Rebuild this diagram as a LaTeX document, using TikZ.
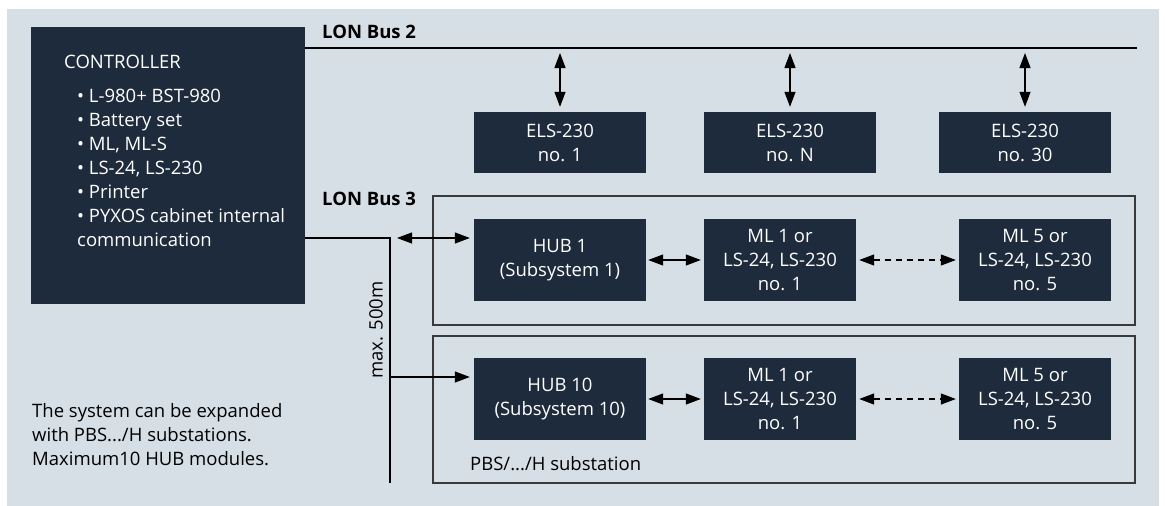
\documentclass[tikz,border=0pt]{standalone}
\usepackage{fontspec}
\setmainfont{Open Sans}
\usetikzlibrary{arrows.meta}
\definecolor{bgc}{HTML}{D6DFE5}
\definecolor{boxc}{HTML}{1E2B3C}
\definecolor{framec}{HTML}{3A3A3A}
\tikzset{
  dark/.style={fill=boxc, text=white, inner sep=0pt, align=center,
    font=\fontsize{18.5}{24}\selectfont},
  elsbox/.style={dark, minimum width=172pt, minimum height=61pt},
  hubbox/.style={dark, minimum width=172pt, minimum height=82pt},
  mlbox/.style={dark, minimum width=152pt, minimum height=82pt},
  frm/.style={draw=framec, line width=1.3pt},
  wire/.style={draw=black, line width=1.2pt},
  arr/.style={wire, {Triangle[length=15pt,width=11pt]}-{Triangle[length=15pt,width=11pt]}},
  arrone/.style={wire, -{Triangle[length=15pt,width=11pt]}},
  darr/.style={arr, dash pattern=on 6pt off 5pt},
  lbl/.style={inner sep=0pt, font=\fontsize{18.5}{24}\selectfont},
  buslbl/.style={inner sep=0pt, font=\bfseries\fontsize{18.5}{24}\selectfont, anchor=west},
}
\begin{document}
\begin{tikzpicture}[x=1pt,y=-1pt]
\useasboundingbox (0,0) rectangle (1165,506);
\fill[white] (0,0) rectangle (1165,506);
\fill[bgc] (7,9) rectangle (1159,506);

% controller
\node[fill=boxc, minimum width=274pt, minimum height=277pt, inner sep=0pt] (ctrl) at (168,165.5) {};
\node[lbl, text=white, anchor=west] (ctrltitle) at (64,62) {CONTROLLER};
\node[lbl, text=white, anchor=north west, align=left] (ctrllist) at (77,89)
  {• L-980+ BST-980\\ • Battery set\\ • ML, ML-S\\ • LS-24, LS-230\\ • Printer\\ • PYXOS cabinet internal\\ communication};

% LON Bus 2
\node[buslbl] (bus2lbl) at (322,32) {LON Bus 2};
\coordinate (b2s) at (305,48);
\coordinate (b2e) at (1137,48);
\draw[wire] (b2s) -- (b2e);

\node[elsbox] (els1) at (560,142.5) {ELS-230\\no. 1};
\node[elsbox] (elsN) at (790,142.5) {ELS-230\\no. N};
\node[elsbox] (els30) at (1025,142.5) {ELS-230\\no. 30};
\foreach \n in {els1,elsN,els30}{
  \draw[arr, shorten <=5pt, shorten >=5pt] (\n.north |- b2s) -- (\n.north);
}

% LON Bus 3
\node[buslbl] (bus3lbl) at (322,199) {LON Bus 3};
\draw[frm] (433,196) rectangle (1135,325);
\draw[frm] (433,336) rectangle (1135,483);
\coordinate (b3c) at (390,238);
\coordinate (b3end) at (390,483);
\draw[wire] (ctrl.east |- b3c) -- (b3c) -- (b3end);

\node[hubbox] (hub1) at (560,260) {HUB 1\\(Subsystem 1)};
\node[mlbox] (mla1) at (780,260) {ML 1 or\\LS-24, LS-230\\no. 1};
\node[mlbox] (mla5) at (1035,260) {ML 5 or\\LS-24, LS-230\\no. 5};

\node[hubbox] (hub10) at (560,399) {HUB 10\\(Subsystem 10)};
\node[mlbox] (mlb1) at (780,399) {ML 1 or\\LS-24, LS-230\\no. 1};
\node[mlbox] (mlb5) at (1035,399) {ML 5 or\\LS-24, LS-230\\no. 5};

\coordinate (a1s) at (397,238);
\draw[arr, shorten >=4pt] (a1s) -- (hub1.west |- a1s);
\coordinate (a10s) at (390,377);
\draw[arrone, shorten >=4pt] (a10s) -- (hub10.west |- a10s);

\draw[arr, shorten <=2pt, shorten >=3pt] (hub1) -- (mla1);
\draw[darr, shorten <=3pt, shorten >=3pt] (mla1) -- (mla5);
\draw[arr, shorten <=2pt, shorten >=3pt] (hub10) -- (mlb1);
\draw[darr, shorten <=3pt, shorten >=3pt] (mlb1) -- (mlb5);

\node[lbl, rotate=90] (maxlbl) at (376,330) {max. 500m};
\node[lbl, anchor=west] (pbslbl) at (470,464) {PBS/.../H substation};
\node[lbl, anchor=north west, align=left] (note) at (32,403)
  {The system can be expanded\\with PBS.../H substations.\\Maximum10 HUB modules.};
\end{tikzpicture}
\end{document}
